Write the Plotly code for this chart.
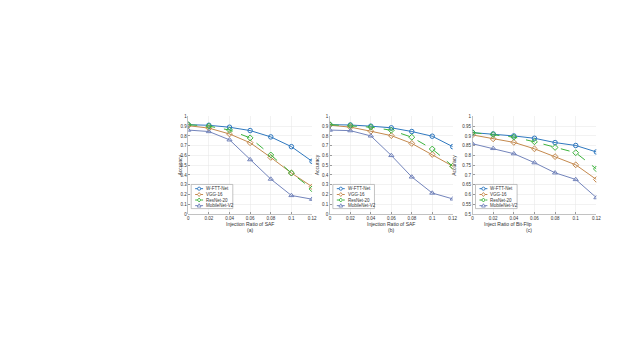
import plotly.graph_objects as go

# ---------------- data ----------------
x_ratio = [0, 0.02, 0.04, 0.06, 0.08, 0.1, 0.12]
x_ticks = ["0", "0.02", "0.04", "0.06", "0.08", "0.1", "0.12"]
series_names = ["W-FTT-Net", "VGG-16", "ResNet-20", "MobileNet-V2"]

# (a) SAF
a_wftt = [0.915, 0.909, 0.889, 0.855, 0.790, 0.690, 0.540]
a_vgg = [0.905, 0.880, 0.820, 0.730, 0.580, 0.420, 0.280]
a_resnet = [0.915, 0.900, 0.860, 0.780, 0.605, 0.420, 0.257]
a_mobile = [0.860, 0.845, 0.760, 0.557, 0.358, 0.190, 0.152]

# (b) SAF
b_wftt = [0.915, 0.912, 0.900, 0.883, 0.845, 0.797, 0.690]
b_vgg = [0.910, 0.890, 0.848, 0.803, 0.723, 0.610, 0.490]
b_resnet = [0.915, 0.905, 0.890, 0.858, 0.787, 0.666, 0.490]
b_mobile = [0.860, 0.854, 0.800, 0.600, 0.380, 0.215, 0.155]

# (c) Bit-Flip
c_wftt = [0.917, 0.910, 0.900, 0.888, 0.866, 0.851, 0.818]
c_vgg = [0.905, 0.885, 0.867, 0.834, 0.794, 0.752, 0.677]
c_resnet = [0.917, 0.907, 0.894, 0.870, 0.841, 0.814, 0.731]
c_mobile = [0.860, 0.836, 0.809, 0.763, 0.711, 0.677, 0.584]

y_ticks_ab = [0, 0.1, 0.2, 0.3, 0.4, 0.5, 0.6, 0.7, 0.8, 0.9, 1]
y_ticks_c = [0.5, 0.55, 0.6, 0.65, 0.7, 0.75, 0.8, 0.85, 0.9, 0.95, 1]
x_titles = ["Injection Ratio of SAF", "Injection Ratio of SAF", "Inject Ratio of Bit-Flip"]
captions = ["(a)", "(b)", "(c)"]

# ---------------- style ----------------
W, H = 640, 362
colors = ["#2f78bf", "#c4894e", "#3db33d", "#7384bb"]
dashes = ["solid", "solid", "dash", "solid"]
symbols = ["circle-open", "diamond-open", "diamond-open", "triangle-up-open"]
FONT = "Liberation Sans, Arial, sans-serif"
TXT = "#333333"

def px(x):
    return x / W

def py(y):
    return 1 - y / H

panels = [
    dict(x0=189, x1=314, data=[a_wftt, a_vgg, a_resnet, a_mobile], yt=y_ticks_ab, yr=[0, 1]),
    dict(x0=332, x1=456, data=[b_wftt, b_vgg, b_resnet, b_mobile], yt=y_ticks_ab, yr=[0, 1]),
    dict(x0=476, x1=601, data=[c_wftt, c_vgg, c_resnet, c_mobile], yt=y_ticks_c, yr=[0.5, 1]),
]
Y_TOP, Y_BOT = 116, 215

fig = go.Figure()
shapes = []
annotations = []

for i, p in enumerate(panels):
    k = "" if i == 0 else str(i + 1)
    xa = "x" + k
    ya = "y" + k
    for s, vals in enumerate(p["data"]):
        fig.add_trace(go.Scatter(
            x=x_ratio, y=vals, name=series_names[s], xaxis=xa, yaxis=ya,
            mode="lines+markers", showlegend=False,
            line=dict(color=colors[s], width=1, dash=dashes[s]),
            marker=dict(symbol=symbols[s], size=4.5, color=colors[s],
                        line=dict(width=1, color=colors[s])),
        ))
    axis_common = dict(
        showgrid=True, gridcolor="#e6e6e6", gridwidth=0.5,
        showline=True, linecolor="#9a9a9a", linewidth=0.6,
        ticks="inside", ticklen=2, tickcolor="#9a9a9a",
        tickfont=dict(family=FONT, size=4.5, color=TXT),
        zeroline=False, mirror=False,
    )
    fig.update_layout({
        "xaxis" + k: dict(
            domain=[px(p["x0"]), px(p["x1"])], anchor=ya,
            range=[0, 0.12], tickvals=x_ratio, ticktext=x_ticks,
            **axis_common),
        "yaxis" + k: dict(
            domain=[py(Y_BOT), py(Y_TOP)], anchor=xa,
            range=p["yr"], tickvals=p["yt"],
            ticktext=[("%g" % v) for v in p["yt"]],
            **axis_common),
    })
    xm = (p["x0"] + p["x1"]) / 2
    annotations.append(dict(x=px(xm), y=py(225), xref="paper", yref="paper",
                            text=x_titles[i], showarrow=False,
                            font=dict(family=FONT, size=5, color=TXT)))
    annotations.append(dict(x=px(xm), y=py(231.5), xref="paper", yref="paper",
                            text=captions[i], showarrow=False,
                            font=dict(family=FONT, size=5, color=TXT)))
    annotations.append(dict(x=px(p["x0"] - 13), y=py((Y_TOP + Y_BOT) / 2),
                            xref="paper", yref="paper", text="Accuracy",
                            textangle=-90, showarrow=False,
                            font=dict(family=FONT, size=5, color=TXT)))

    # manual legend (compact, like the original)
    bx0, bx1, by0, by1 = p["x0"] + 3, p["x0"] + 45, 185, 209.5
    shapes.append(dict(type="rect", xref="paper", yref="paper",
                       x0=px(bx0), x1=px(bx1), y0=py(by1), y1=py(by0),
                       line=dict(color="#9a9a9a", width=0.6), fillcolor="white"))
    ys = [189.3, 195.2, 200.8, 206.5]
    for s in range(4):
        yy = ys[s]
        shapes.append(dict(type="line", xref="paper", yref="paper",
                           x0=px(bx0 + 4), x1=px(bx0 + 12), y0=py(yy), y1=py(yy),
                           line=dict(color=colors[s], width=1, dash="dot" if dashes[s] == "dash" else "solid")))
        cx, r = bx0 + 8, 1.6
        if s == 0:
            shapes.append(dict(type="circle", xref="paper", yref="paper",
                               x0=px(cx - r), x1=px(cx + r), y0=py(yy + r), y1=py(yy - r),
                               line=dict(color=colors[s], width=0.9), fillcolor="white"))
        elif s in (1, 2):
            path = "M %f,%f L %f,%f L %f,%f L %f,%f Z" % (
                px(cx), py(yy - 2), px(cx + 1.7), py(yy), px(cx), py(yy + 2), px(cx - 1.7), py(yy))
            shapes.append(dict(type="path", xref="paper", yref="paper", path=path,
                               line=dict(color=colors[s], width=0.9), fillcolor="white"))
        else:
            path = "M %f,%f L %f,%f L %f,%f Z" % (
                px(cx), py(yy - 1.9), px(cx + 1.9), py(yy + 1.4), px(cx - 1.9), py(yy + 1.4))
            shapes.append(dict(type="path", xref="paper", yref="paper", path=path,
                               line=dict(color=colors[s], width=0.9), fillcolor="white"))
        annotations.append(dict(x=px(bx0 + 13), y=py(yy), xref="paper", yref="paper",
                                xanchor="left", yanchor="middle", text=series_names[s],
                                showarrow=False, font=dict(family=FONT, size=4.5, color=TXT)))

fig.update_layout(
    width=W, height=H, margin=dict(l=0, r=0, t=0, b=0),
    paper_bgcolor="white", plot_bgcolor="white",
    showlegend=False, shapes=shapes, annotations=annotations,
    font=dict(family=FONT, size=5, color=TXT),
)

fig.write_html(
    "out.html",
    config={"displayModeBar": False, "staticPlot": True},
    post_script="document.body.style.margin='0';document.body.style.overflow='hidden';",
)
